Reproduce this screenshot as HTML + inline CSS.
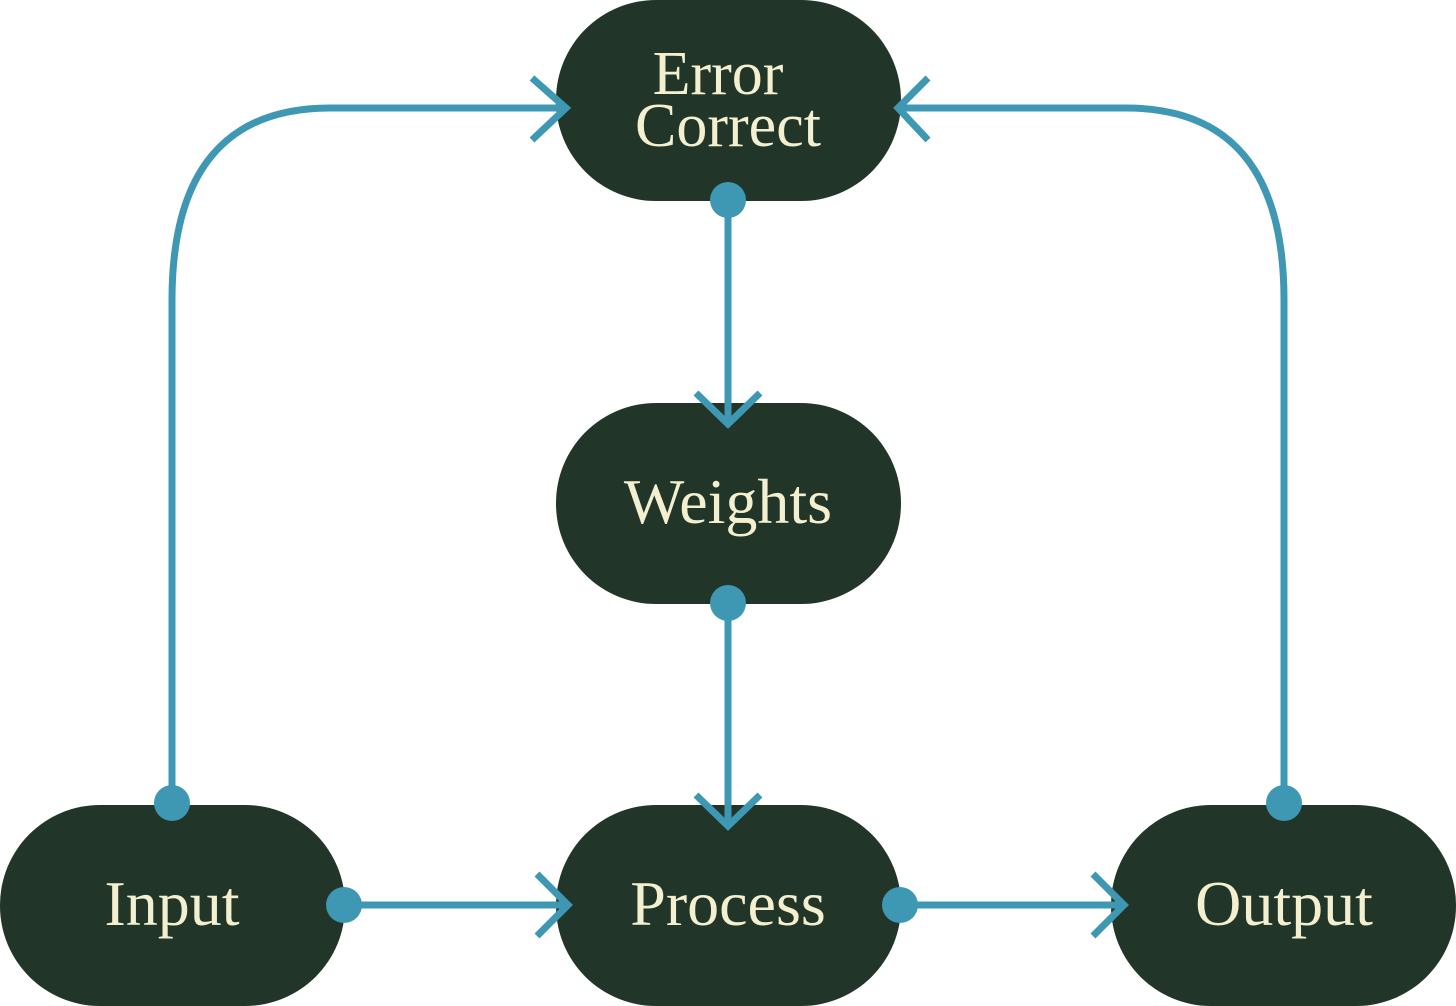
<!DOCTYPE html>
<html><head><meta charset="utf-8"><style>
html,body{margin:0;padding:0;background:#fff;}
svg{display:block;}
text{font-family:"Liberation Serif",serif;fill:#f3efcf;text-anchor:middle;}
</style></head><body>
<svg width="1456" height="1006" viewBox="0 0 1456 1006" xmlns="http://www.w3.org/2000/svg">
<g fill="#213629">
<rect x="556" y="0" width="345" height="201" rx="100"/>
<rect x="556" y="403" width="345" height="201" rx="100"/>
<rect x="556" y="805" width="345" height="201" rx="100"/>
<rect x="0" y="805" width="345" height="201" rx="100"/>
<rect x="1111" y="805" width="345" height="201" rx="100"/>
</g>
<g stroke="#3e98b3" stroke-width="7" fill="none" stroke-linecap="butt">
<path d="M172 803 V300 Q172 108 330 108 H566"/>
<path d="M532 78 L566 108 L532 140"/>
<path d="M1284 803 V300 Q1284 108 1126 108 H898"/>
<path d="M928 78 L898 108 L928 140"/>
<path d="M728 200 V424"/>
<path d="M696 393 L728 424 L760 393"/>
<path d="M728 603 V826"/>
<path d="M696 795 L728 826 L760 795"/>
<path d="M344 905 H568"/>
<path d="M537 874 L568 905 L537 936"/>
<path d="M900 905 H1124"/>
<path d="M1093 874 L1124 905 L1093 936"/>
</g>
<g fill="#3e98b3">
<circle cx="172" cy="803" r="18"/>
<circle cx="1284" cy="803" r="18"/>
<circle cx="728" cy="200" r="18"/>
<circle cx="728" cy="603" r="18"/>
<circle cx="344" cy="905" r="18"/>
<circle cx="900" cy="905" r="18"/>
</g>
<text x="718" y="94" font-size="62">Error</text>
<text x="728" y="146" font-size="62">Correct</text>
<text x="728" y="523" font-size="64">Weights</text>
<text x="728" y="925" font-size="64">Process</text>
<text x="172" y="925" font-size="64">Input</text>
<text x="1284" y="925" font-size="64">Output</text>
</svg>
</body></html>
